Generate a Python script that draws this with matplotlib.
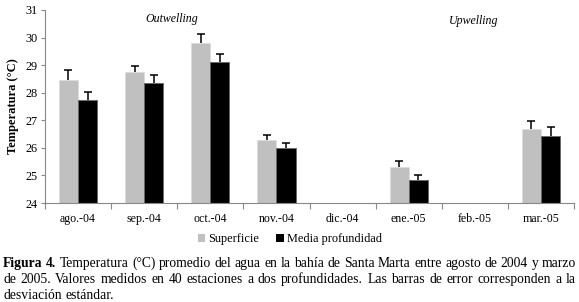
import numpy as np
import matplotlib
matplotlib.use("Agg")
import matplotlib.pyplot as plt
from matplotlib.patches import Patch

# === Data ===
months = ["ago.-04", "sep.-04", "oct.-04", "nov.-04", "dic.-04", "ene.-05", "feb.-05", "mar.-05"]
superficie = [28.45, 28.75, 29.82, 26.28, np.nan, 25.30, np.nan, 26.70]
superficie_sd = [0.38, 0.22, 0.32, 0.18, 0.0, 0.22, 0.0, 0.27]
media = [27.72, 28.37, 29.12, 26.00, np.nan, 24.83, np.nan, 26.42]
media_sd = [0.32, 0.28, 0.30, 0.18, 0.0, 0.17, 0.0, 0.32]

caption_bold = "Figura 4."
caption_lines = [
    "Temperatura (\u00b0C) promedio del agua en la bah\u00eda de Santa Marta entre agosto de 2004 y marzo",
    "de 2005. Valores medidos en 40 estaciones a dos profundidades. Las barras de error corresponden a la",
    "desviaci\u00f3n est\u00e1ndar.",
]

plt.rcParams["font.family"] = ["Liberation Serif"]
SERIF = "Liberation Serif"

W, H = 579, 302
fig = plt.figure(figsize=(W / 100, H / 100), dpi=100)
ax = fig.add_axes([45 / W, 1 - 203 / H, (574 - 45) / W, (203 - 10) / H])

x = np.arange(len(months))
bw = 0.29
gray = "#c0c0c0"
ekw = dict(ecolor="black", elinewidth=1.1, capsize=3, capthick=1.1)
b1 = ax.bar(x - bw / 2, superficie, bw, color=gray, edgecolor="#dcdcdc", linewidth=0.6,
            yerr=[np.zeros(len(x)), superficie_sd], error_kw=ekw)
b2 = ax.bar(x + bw / 2, media, bw, color="black", edgecolor="#666666", linewidth=0.6,
            yerr=[np.zeros(len(x)), media_sd], error_kw=ekw)
# only the upper caps are shown
for b in (b1, b2):
    b.errorbar.lines[1][0].set_visible(False)

ax.set_ylim(24, 31)
ax.set_xlim(-0.5, len(months) - 0.5)
ax.set_yticks(range(24, 32))
ax.set_xticks(x)
ax.set_xticklabels(months, family=SERIF)
ax.set_yticklabels([str(v) for v in range(24, 32)], family=SERIF)
ax.set_xticks(np.arange(-0.5, len(months)), minor=True)
ax.tick_params(axis="x", which="major", length=0, labelsize=8.6, pad=7)
ax.tick_params(axis="x", which="minor", length=4, color="#888888", width=0.8)
ax.tick_params(axis="y", length=3, color="#888888", width=0.8, labelsize=8.8, pad=2)
for s in ["top", "right"]:
    ax.spines[s].set_visible(False)
for s in ["left", "bottom"]:
    ax.spines[s].set_color("#888888")
    ax.spines[s].set_linewidth(0.8)
ax.set_ylabel("Temperatura (\u00b0C)", fontsize=9, fontweight="bold", family=SERIF, labelpad=5)

ax.text(0.24, 0.955, "Outwelling", transform=ax.transAxes, fontsize=8.6, style="italic",
        family=SERIF, ha="center", va="center")
ax.text(0.81, 0.945, "Upwelling", transform=ax.transAxes, fontsize=8.6, style="italic",
        family=SERIF, ha="center", va="center")

handles = [Patch(facecolor=gray, label="Superficie"), Patch(facecolor="black", label="Media profundidad")]
fig.legend(handles=handles, loc="center", bbox_to_anchor=(290 / W, 1 - 239 / H), ncol=2, frameon=False,
           prop={"family": SERIF, "size": 8.8}, handlelength=0.6, handleheight=0.6,
           handletextpad=0.3, columnspacing=1.4)

# === Caption (justified) ===
fig.canvas.draw()
renderer = fig.canvas.get_renderer()
left_px, right_px = 3, 576
line_base = [267, 283, 299]
fs = 9.8


def width_px(s, weight="normal"):
    t = fig.text(0, 0, s, fontsize=fs, fontweight=weight, family=SERIF)
    w = t.get_window_extent(renderer).width
    t.remove()
    return w


for i, line in enumerate(caption_lines):
    words = line.split(" ")
    weights = ["normal"] * len(words)
    if i == 0:
        words = caption_bold.split(" ") + words
        weights = ["bold"] * len(caption_bold.split(" ")) + weights
    widths = [width_px(w, wt) for w, wt in zip(words, weights)]
    if i < len(caption_lines) - 1:
        gap = (right_px - left_px - sum(widths)) / (len(words) - 1)
    else:
        gap = width_px("a b") - width_px("ab")
    xp = left_px
    for w, wt, wd in zip(words, weights, widths):
        fig.text(xp / W, 1 - line_base[i] / H, w, fontsize=fs, fontweight=wt, family=SERIF,
                 va="baseline", ha="left")
        xp += wd + gap

fig.savefig("out.png", dpi=100)
